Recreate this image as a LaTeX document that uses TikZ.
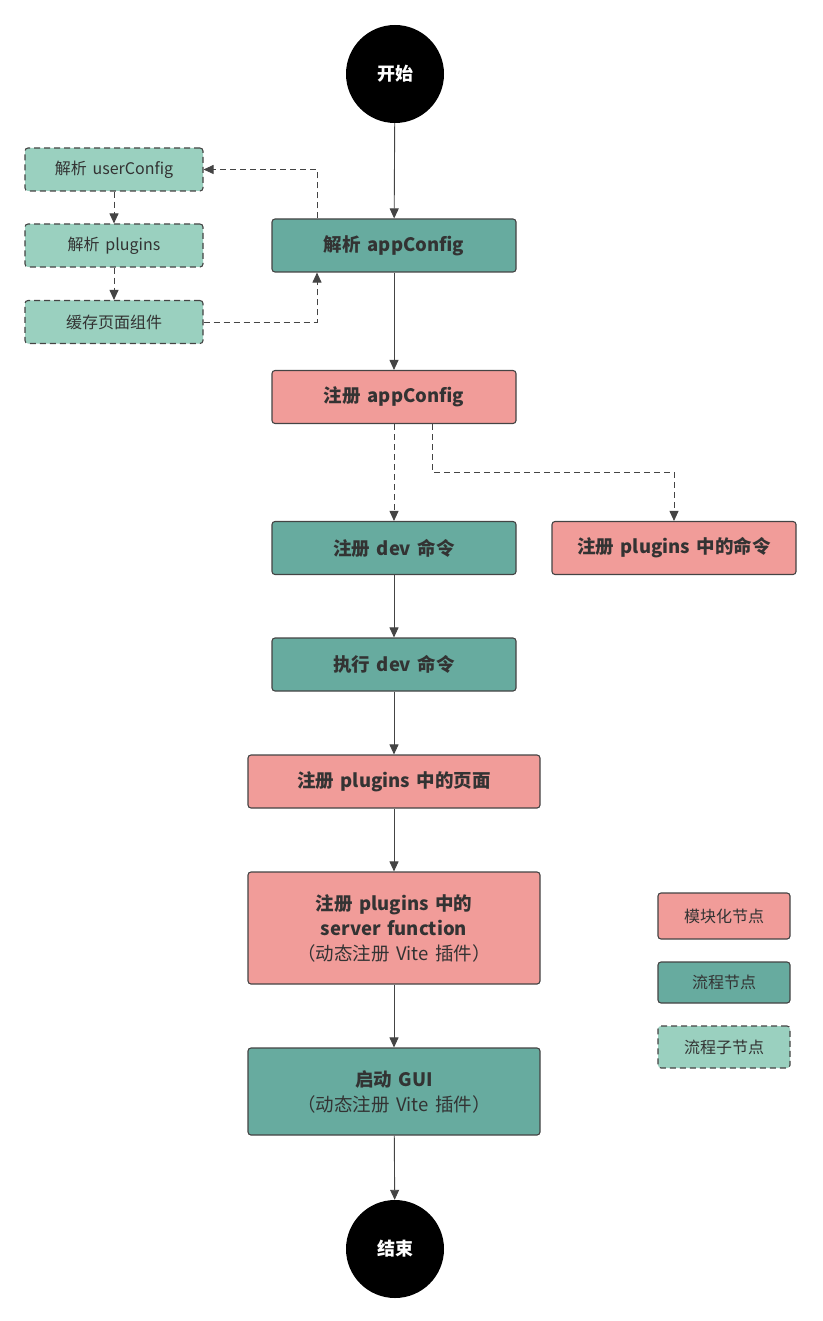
\documentclass[tikz,border=0pt]{standalone}
\usepackage{fontspec}
\setmainfont{Noto Sans CJK SC}[WordSpace = 1.6]
\usetikzlibrary{arrows.meta}
\definecolor{flowgreen}{HTML}{67AB9F}
\definecolor{modpink}{HTML}{F19C99}
\definecolor{subgreen}{HTML}{9AD0BF}
\definecolor{edgegray}{HTML}{444444}
\definecolor{textgray}{HTML}{333333}
\begin{document}
\begin{tikzpicture}[x = 1pt, y = -1pt,
  every node/.style = {text = textgray, align = center},
  base/.style = {draw = edgegray, line width = 1.1pt, rounded corners = 3pt,
    inner sep = 0pt, font = \fontsize{18.5}{25}\selectfont},
  flow/.style = {base, fill = flowgreen, minimum width = 244pt, minimum height = 53pt},
  module/.style = {base, fill = modpink, minimum width = 244pt, minimum height = 53pt},
  subflow/.style = {base, fill = subgreen, dash pattern = on 6pt off 4pt,
    minimum width = 178pt, minimum height = 43pt, font = \fontsize{16}{19}\selectfont},
  terminal/.style = {circle, fill = black, minimum size = 98pt, inner sep = 0pt,
    text = white, font = \fontsize{18}{22}\selectfont\bfseries},
  link/.style = {draw = edgegray, line width = 0.9pt, -{Triangle[length = 10pt, width = 9pt]}},
  dlink/.style = {link, dash pattern = on 6pt off 4pt}
]

\useasboundingbox (0,0) rectangle (822,1321);

% main flow
\node [terminal] (start) at (395,74) {开始};
\node [flow] (parse) at (394,245.5) {\bfseries 解析 appConfig};
\node [module] (reg) at (394,397) {\bfseries 注册 appConfig};
\node [flow] (regdev) at (394,548) {\bfseries 注册 dev 命令};
\node [module] (plugcmd) at (674,548) {\bfseries 注册 plugins 中的命令};
\node [flow] (rundev) at (394,664.5) {\bfseries 执行 dev 命令};
\node [module, minimum width = 292pt] (plugpage) at (394,781.5) {\bfseries 注册 plugins 中的页面};
\node [module, minimum width = 292pt, minimum height = 112pt] (plugfn) at (394,928)
  {\bfseries 注册 plugins 中的\\ \bfseries server function\\ （动态注册 Vite 插件）};
\node [flow, minimum width = 292pt, minimum height = 87pt] (gui) at (394,1091.5)
  {\bfseries 启动 GUI\\ （动态注册 Vite 插件）};
\node [terminal] (finish) at (395,1249) {结束};

% sub steps
\node [subflow] (usercfg) at (114,169.5) {解析 userConfig};
\node [subflow] (plugins) at (114,245.5) {解析 plugins};
\node [subflow] (cache) at (114,322) {缓存页面组件};

% legend
\node [module, minimum width = 132pt, minimum height = 46pt, font = \fontsize{16}{19}\selectfont] (keymod) at (724,916) {模块化节点};
\node [flow, minimum width = 132pt, minimum height = 41pt, font = \fontsize{16}{19}\selectfont] (keyflow) at (724,982.5) {流程节点};
\node [subflow, minimum width = 132pt, minimum height = 42pt] (keysub) at (724,1047) {流程子节点};

\coordinate (bend) at (674,472);

\draw [link] (start) -- (parse);
\draw [link] (parse) -- (reg);
\draw [dlink] ([xshift = -77pt]parse.north) |- (usercfg.east);
\draw [dlink] (usercfg) -- (plugins);
\draw [dlink] (plugins) -- (cache);
\draw [dlink] (cache.east) -| ([xshift = -77pt]parse.south);
\draw [dlink] (reg) -- (regdev);
\draw [dlink] ([xshift = 38pt]reg.south) |- (bend) -- (plugcmd.north);
\draw [link] (regdev) -- (rundev);
\draw [link] (rundev) -- (plugpage);
\draw [link] (plugpage) -- (plugfn);
\draw [link] (plugfn) -- (gui);
\draw [link] (gui) -- (finish);

\end{tikzpicture}
\end{document}
